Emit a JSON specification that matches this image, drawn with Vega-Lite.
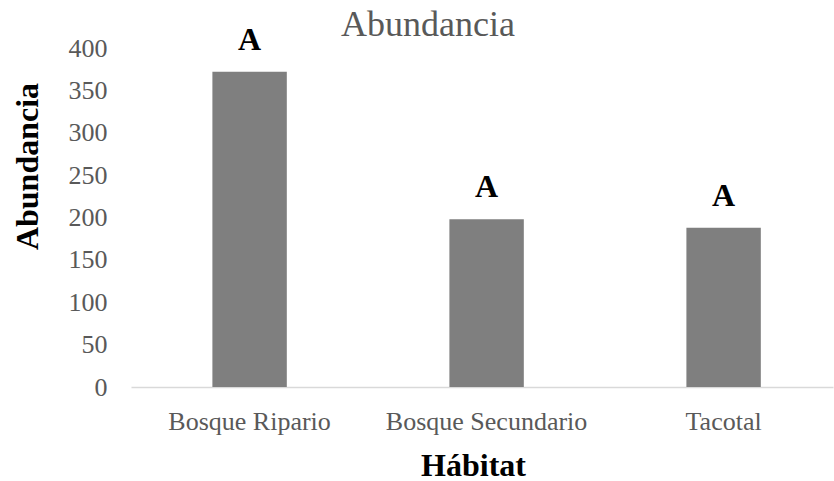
{
  "$schema": "https://vega.github.io/schema/vega-lite/v6.json",
  "autosize": "none",
  "width": 702,
  "height": 339,
  "padding": {"left": 131, "top": 48, "right": 1, "bottom": 94},
  "background": "white",
  "config": {
    "view": {"stroke": null},
    "font": "Liberation Serif"
  },
  "title": {
    "text": "Abundancia",
    "font": "Liberation Serif",
    "fontSize": 36,
    "fontWeight": "normal",
    "color": "#595959",
    "anchor": "middle",
    "frame": "group",
    "baseline": "alphabetic",
    "dx": -54,
    "offset": -48
  },
  "data": {
    "values": [
      {"habitat": "Bosque Ripario", "abundancia": 372, "grupo": "A"},
      {"habitat": "Bosque Secundario", "abundancia": 198, "grupo": "A"},
      {"habitat": "Tacotal", "abundancia": 188, "grupo": "A"}
    ]
  },
  "encoding": {
    "x": {
      "field": "habitat",
      "type": "nominal",
      "sort": null,
      "scale": {"paddingInner": 0.686, "paddingOuter": 0.324, "align": 0.53},
      "axis": {
        "title": "Hábitat",
        "titleFont": "Liberation Serif",
        "titleFontSize": 32,
        "titleFontWeight": "bold",
        "titleColor": "#000000",
        "titleAnchor": "start",
        "titleAlign": "center",
        "titleBaseline": "alphabetic",
        "titleX": 342,
        "titleY": 88,
        "labelAngle": 0,
        "labelFont": "Liberation Serif",
        "labelFontSize": 26,
        "labelColor": "#595959",
        "labelPadding": 21,
        "labelLimit": 0,
        "ticks": false,
        "tickSize": 0,
        "domainColor": "#d9d9d9",
        "domainWidth": 1.5,
        "grid": false
      }
    },
    "y": {
      "field": "abundancia",
      "type": "quantitative",
      "scale": {"domain": [0, 400], "nice": false},
      "axis": {
        "title": "Abundancia",
        "titleFont": "Liberation Serif",
        "titleFontSize": 32,
        "titleFontWeight": "bold",
        "titleColor": "#000000",
        "titleAngle": -90,
        "titleAnchor": "start",
        "titleAlign": "center",
        "titleBaseline": "alphabetic",
        "titleX": -94,
        "titleY": 118,
        "values": [0, 50, 100, 150, 200, 250, 300, 350, 400],
        "labelFont": "Liberation Serif",
        "labelFontSize": 26,
        "labelColor": "#595959",
        "labelPadding": 24,
        "ticks": false,
        "tickSize": 0,
        "domain": false,
        "grid": false
      }
    }
  },
  "layer": [
    {
      "mark": {"type": "bar", "color": "#7f7f7f"}
    },
    {
      "mark": {
        "type": "text",
        "font": "Liberation Serif",
        "fontSize": 32,
        "fontWeight": "bold",
        "color": "#000000",
        "baseline": "alphabetic",
        "dy": -22
      },
      "encoding": {"text": {"field": "grupo"}}
    }
  ]
}
